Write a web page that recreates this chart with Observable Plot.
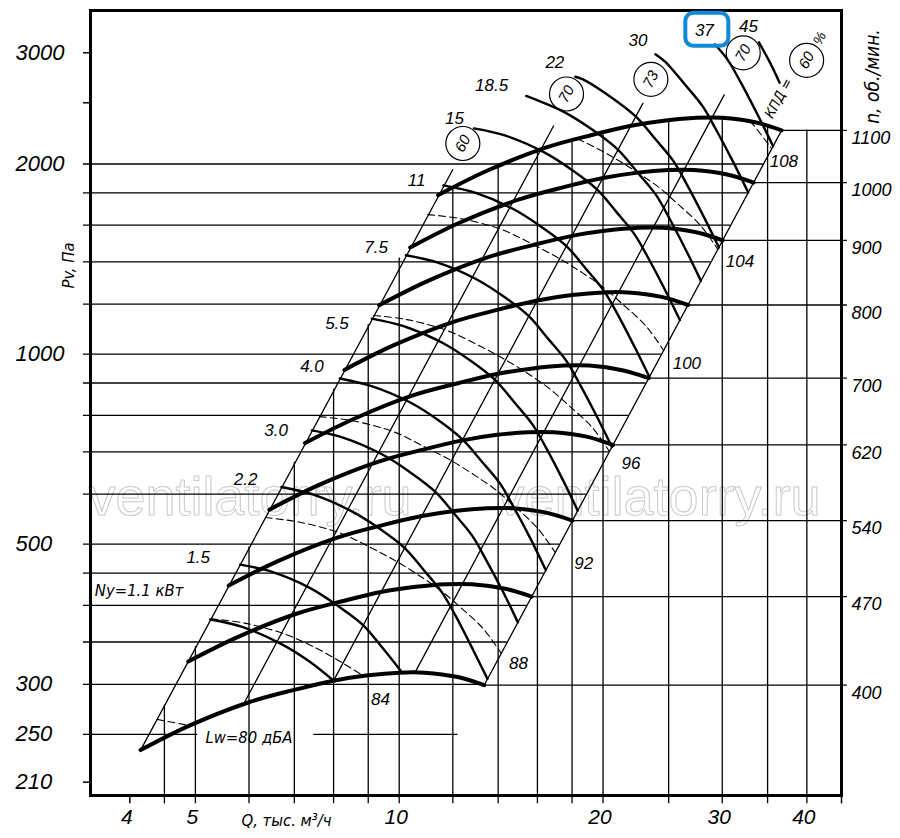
<!DOCTYPE html>
<html><head><meta charset="utf-8">
<script src="https://cdn.jsdelivr.net/npm/d3@7"></script>
<script src="https://cdn.jsdelivr.net/npm/@observablehq/plot@0.6"></script>
<style>body{margin:0;background:#fff}svg{display:block}</style>
</head><body><div id="chart"></div>
<script>
// ---------- fan characteristic curves (Q thousand m3/h, Pv Pa) ----------
const rpmValues = [400, 470, 540, 620, 700, 800, 900, 1000, 1100];
const fan400 = [[4.15,236],[4.9,258],[6.0,281],[7.0,294],[8.0,304],[9.0,310],[10.0,313],[10.9,313],[12.2,308],[13.35,299]];
const fan470 = [[4.88,326],[5.76,356],[7.05,388],[8.23,406],[9.40,420],[10.58,428],[11.75,432],[12.81,432],[14.34,425],[15.69,413]];
const fan540 = [[5.60,430],[6.62,470],[8.10,512],[9.45,536],[10.80,554],[12.15,565],[13.50,570],[14.72,570],[16.47,561],[18.02,545]];
const fan620 = [[6.43,567],[7.60,620],[9.30,675],[10.85,706],[12.40,730],[13.95,745],[15.50,752],[16.90,752],[18.91,740],[20.69,718]];
const fan700 = [[7.26,723],[8.58,790],[10.50,861],[12.25,900],[14.00,931],[15.75,949],[17.50,959],[19.08,959],[21.35,943],[23.36,916]];
const fan800 = [[8.30,944],[9.80,1032],[12.0,1124],[14.0,1176],[16.0,1216],[18.0,1240],[20.0,1252],[21.8,1252],[24.4,1232],[26.7,1196]];
const fan900 = [[9.34,1195],[11.03,1306],[13.5,1423],[15.75,1488],[18.0,1539],[20.25,1569],[22.5,1585],[24.53,1585],[27.45,1559],[30.04,1514]];
const fan1000 = [[10.38,1475],[12.25,1613],[15.0,1756],[17.5,1838],[20.0,1900],[22.5,1938],[25.0,1956],[27.25,1956],[30.5,1925],[33.38,1869]];
const fan1100 = [[11.41,1785],[13.48,1951],[16.5,2125],[19.25,2223],[22.0,2299],[24.75,2344],[27.5,2367],[29.98,2367],[33.55,2329],[36.71,2261]];
const fanCurves = [fan400, fan470, fan540, fan620, fan700, fan800, fan900, fan1000, fan1100];

// ---------- motor power lines Ny, kW ----------
const powerLabels = ["Ny=1.1 кВт","1.5","2.2","3.0","4.0","5.5","7.5","11","15","18.5","22","30","37","45"];
const pw1_1 = [[5.26,380],[5.86,370],[6.68,348],[7.37,326],[8.0,304]];
const pw1_5 = [[5.82,464],[6.49,452],[7.39,426],[8.15,398],[8.85,372],[9.46,342],[10.1,313]];
const pw2_2 = [[6.70,616],[7.47,599],[8.50,564],[9.38,528],[10.19,493],[10.89,454],[11.57,419],[12.10,386],[12.84,341],[13.50,306]];
const pw3_0 = [[7.43,757],[8.28,737],[9.43,694],[10.40,649],[11.29,606],[12.07,558],[12.83,515],[13.41,474],[14.24,420],[14.97,376]];
const pw4_0 = [[8.17,915],[9.10,890],[10.37,839],[11.44,785],[12.41,732],[13.27,674],[14.10,623],[14.75,573],[15.66,508],[16.46,455]];
const pw5_5 = [[9.11,1138],[10.15,1107],[11.56,1043],[12.75,976],[13.84,911],[14.80,838],[15.73,774],[16.45,713],[17.46,631],[18.35,565]];
const pw7_5 = [[10.23,1434],[11.40,1396],[12.98,1315],[14.32,1230],[15.54,1148],[16.61,1056],[17.65,976],[18.46,898],[19.60,795],[20.61,713]];
const pw11 = [[11.62,1850],[12.94,1801],[14.74,1697],[16.26,1587],[17.66,1482],[18.88,1364],[20.06,1259],[20.98,1160],[22.27,1026],[23.42,920]];
const pw15 = [[12.89,2277],[14.36,2217],[16.35,2088],[18.04,1953],[19.59,1823],[20.94,1678],[22.25,1549],[23.27,1426],[24.70,1263],[25.97,1132]];
const pw18_5 = [[15.40,2563],[17.58,2412],[19.39,2257],[21.05,2106],[22.50,1938],[23.92,1790],[25.01,1647],[26.54,1458],[27.90,1306]];
const pw22 = [[18.20,2749],[18.68,2723],[20.60,2547],[22.37,2377],[23.91,2188],[25.41,2021],[26.57,1860],[28.20,1646],[29.66,1475]];
const pw30 = [[23.90,2984],[24.72,2902],[26.42,2672],[28.07,2467],[29.35,2270],[31.17,2010],[32.77,1802]];
const pw37 = [[29.25,3094],[30.56,2923],[31.96,2690],[33.92,2380],[35.67,2134]];
const pw45 = [[33.98,3116],[35.20,2910],[36.46,2690]];
const powerCurves = [pw1_1,pw1_5,pw2_2,pw3_0,pw4_0,pw5_5,pw7_5,pw11,pw15,pw18_5,pw22,pw30,pw37,pw45];

// ---------- sound power lines Lw, dBA ----------
const lwLabels = ["Lw=80 дБА","84","88","92","96","100","104","108"];
const lw80 = [[4.39,264],[4.9,258]];
const lw84 = [[5.27,381],[5.91,375],[6.79,360],[7.55,342],[8.26,324],[8.87,309]];
const lw88 = [[6.34,551],[7.11,542],[8.17,521],[9.07,494],[9.93,469],[10.77,444],[11.59,420],[12.29,398],[13.32,367],[14.14,336]];
const lw92 = [[7.62,796],[8.54,784],[9.82,753],[10.90,713],[11.94,678],[12.95,642],[13.93,608],[14.77,575],[16.01,530],[17.00,485]];
const lw96 = [[9.16,1151],[10.27,1134],[11.81,1088],[13.11,1032],[14.36,979],[15.57,928],[16.75,878],[17.76,831],[19.25,767],[20.44,701]];
const lw100 = [[11.02,1663],[12.35,1638],[14.20,1573],[15.77,1491],[17.26,1416],[18.72,1341],[20.14,1269],[21.35,1201],[23.14,1108],[24.58,1013]];
const lw104 = [[18.32,2190],[18.95,2156],[20.76,2046],[22.50,1938],[24.21,1835],[25.67,1736],[27.82,1601],[29.55,1465]];
const lw108 = [[32.95,2337],[33.37,2305],[35.49,2114]];
const lwCurves = [lw80,lw84,lw88,lw92,lw96,lw100,lw104,lw108];

// ---------- efficiency (КПД) diagonals, % ----------
const effLabels = ["60","70","73","70","60"];
const eff60a = [[4.15,236],[12.0,1960]];
const eff70a = [[5.9,280],[16.9,2297]];
const eff73 = [[8.0,304],[22.9,2495]];
const eff70b = [[10.55,313],[30.2,2573]];
const eff60b = [[13.35,299],[36.71,2261]];
const effLines = [eff60a,eff70a,eff73,eff70b,eff60b];

// ---------- grid and axis values ----------
const gridP = [2000,1800,1600,1400,1200,1000,900,800,700,600,500,450,400,350,300,250];
const gridQEnd = [34.52,32.75,30.88,28.88,26.74,24.41,23.16,21.84,20.43,18.91,17.26,16.38,15.44,14.44,13.37,12.21];
const lw80Gap = [5.04, 7.48];
const tickOnlyP = [3000, 2500, 210];
const yLabels = [3000, 2000, 1000, 500, 300, 250, 210];
const gridQ = [4.5,5,6,7,8,9,10,12,14,16,18,20,25,30,35,40];
const gridQTop = [278,344,495,674,880,1114,1420,1825,1981,2098,2177,2244,2346,2367,2298,2261];
const tickOnlyQ = [4, 45];
const xLabels = [4, 5, 10, 20, 30, 40];

// ---------- label layout offsets (pixels) ----------
const powerDx = [-27,-30,-24,-24,-16,-23,-18,-18,-10,-18,-11,-8,-1,-1];
const powerDy = [-29,-7,-7,0,-12,5,-8,-5,-10,-10,-14,-14,-14,-16];
const lwDx = [16,7,8,19,12,9,8,-2];
const lwDy = [12,23,10,11,12,13,12,13];
const effDx = [10,13,8,19,25];
const effDy = [-26,-32,-24,-42,-70];

// ---------- build tables ----------
const toRows = (curves, names) => curves.flatMap((c, i) => c.map(([Q, P]) => ({Q, P, g: names[i]})));
const fanRows = toRows(fanCurves, rpmValues);
const powRows = toRows(powerCurves, powerLabels);
const lwRows = toRows(lwCurves, lwLabels);
const effRows = toRows(effLines, effLabels.map((e, i) => e + "_" + i));
const fanEnds = fanCurves.map((c, i) => ({Q: c[c.length-1][0], P: c[c.length-1][1], n: rpmValues[i]}));
const hRows = gridP.flatMap((P, i) => P === 250
  ? [{P, q1: 3.417, q2: lw80Gap[0]}, {P, q1: lw80Gap[1], q2: gridQEnd[i]}]
  : [{P, q1: 3.417, q2: gridQEnd[i]}]);
const vRows = gridQ.map((q, i) => ({q, top: gridQTop[i]}));

const FONT = "Liberation Sans, Arial, sans-serif";
const CYR = "DejaVu Sans Condensed, DejaVu Sans, sans-serif";
const txt = {fontFamily: FONT, fontStyle: "italic", fill: "#000"};
const cyr = {fontFamily: CYR, fontStyle: "oblique", fill: "#000", fontStretch: "condensed"};
const isCyr = s => /[А-яЁё]/.test(s);

const roundBox = {draw(ctx) {
  const w = 21.5, h = 16.5, r = 8;
  ctx.moveTo(-w + r, -h); ctx.lineTo(w - r, -h); ctx.arcTo(w, -h, w, -h + r, r);
  ctx.lineTo(w, h - r); ctx.arcTo(w, h, w - r, h, r); ctx.lineTo(-w + r, h);
  ctx.arcTo(-w, h, -w, h - r, r); ctx.lineTo(-w, -h + r); ctx.arcTo(-w, -h, -w + r, -h, r);
  ctx.closePath();
}};

const marks = [
  // watermark
  Plot.text(["ventilatorry.ru"], {frameAnchor: "left", dx: -2, dy: 95, textAnchor: "start", lineAnchor: "middle", fontSize: 54, fontFamily: FONT, fill: "none", stroke: "#c9c9c9", strokeWidth: 1}),
  Plot.text(["ventilatorry.ru"], {frameAnchor: "left", dx: 407, dy: 95, textAnchor: "start", lineAnchor: "middle", fontSize: 54, fontFamily: FONT, fill: "none", stroke: "#c9c9c9", strokeWidth: 1}),
  // grid
  Plot.ruleX(vRows, {x: "q", y1: 194, y2: "top", stroke: "#000", strokeWidth: 1.3}),
  Plot.ruleX(tickOnlyQ, {x: d => d, y1: 194, y2: 200, stroke: "#000", strokeWidth: 1.5}),
  Plot.ruleY(hRows, {y: "P", x1: "q1", x2: "q2", stroke: "#000", strokeWidth: 1.3}),
  Plot.ruleY(tickOnlyP, {y: d => d, x1: 3.417, x2: 3.5, stroke: "#000", strokeWidth: 1.5}),
  Plot.ruleY(fanEnds, {y: "P", x1: "Q", x2: 45.9, stroke: "#000", strokeWidth: 1.3}),
  // efficiency diagonals
  Plot.line(effRows, {x: "Q", y: "P", z: "g", stroke: "#000", strokeWidth: 1.3}),
  // Lw dashed lines
  Plot.line(lwRows, {x: "Q", y: "P", z: "g", stroke: "#000", strokeWidth: 1.1, strokeDasharray: "7,4", curve: "catmull-rom"}),
  // power lines
  Plot.line(powRows, {x: "Q", y: "P", z: "g", stroke: "#000", strokeWidth: 2.4, curve: "catmull-rom"}),
  // fan curves
  Plot.line(fanRows, {x: "Q", y: "P", z: "g", stroke: "#000", strokeWidth: 4, curve: "catmull-rom"}),
  Plot.frame({stroke: "#000", strokeWidth: 3}),
  // axes labels
  Plot.text(yLabels, {...txt, x: 3.5, y: d => d, text: d => String(d), dx: -75, textAnchor: "start", fontSize: 22}),
  Plot.text(xLabels, {...txt, x: d => d, y: 200, text: d => String(d), dx: -3, dy: 22, fontSize: 21}),
  Plot.text(["Q, тыс. м³/ч"], {...cyr, frameAnchor: "bottom-left", dx: 196, dy: 25, textAnchor: "middle", lineAnchor: "middle", fontSize: 16.5}),
  Plot.text(["Pv, Па"], {...cyr, frameAnchor: "top-left", dx: -22, dy: 255, textAnchor: "middle", lineAnchor: "middle", rotate: -90, fontSize: 16.5}),
  Plot.text(["n, об./мин."], {...cyr, frameAnchor: "top-right", dx: 31, dy: 66, textAnchor: "middle", lineAnchor: "middle", rotate: -90, fontSize: 19}),
  // rpm labels
  Plot.text(fanEnds, {...txt, x: 45, y: "P", text: d => String(d.n), dx: 10, dy: 8, textAnchor: "start", fontSize: 18}),
  // highlight box around 37
  Plot.dot([pw37[0]], {x: d => d[0], y: d => d[1], dx: -8, dy: -15, symbol: roundBox, r: 10, fill: "none", stroke: "#0d8bd8", strokeWidth: 4}),
  // power labels
  ...powerCurves.map((c, i) => Plot.text([c[0]], {...(isCyr(powerLabels[i]) ? cyr : txt), x: d => d[0], y: d => d[1], text: () => powerLabels[i], dx: powerDx[i], dy: powerDy[i], textAnchor: "end", fontSize: isCyr(powerLabels[i]) ? 16.5 : 17})),
  // Lw labels
  ...lwCurves.map((c, i) => Plot.text([c[c.length-1]], {...(isCyr(lwLabels[i]) ? cyr : txt), x: d => d[0], y: d => d[1], text: () => lwLabels[i], dx: lwDx[i], dy: lwDy[i], textAnchor: "start", fontSize: isCyr(lwLabels[i]) ? 16.5 : 17})),
  // efficiency circles
  ...effLines.map((c, i) => Plot.dot([c[1]], {x: d => d[0], y: d => d[1], dx: effDx[i], dy: effDy[i], r: 17, fill: "none", stroke: "#000", strokeWidth: 1.2})),
  ...effLines.map((c, i) => Plot.text([c[1]], {...txt, x: d => d[0], y: d => d[1], text: () => effLabels[i], dx: effDx[i], dy: effDy[i], rotate: -62, fontSize: 15})),
  Plot.text([eff60b[1]], {...cyr, x: d => d[0], y: d => d[1], text: () => "КПД =", dx: -3, dy: -32, textAnchor: "middle", lineAnchor: "middle", rotate: -62, fontSize: 14}),
  Plot.text([eff60b[1]], {...txt, x: d => d[0], y: d => d[1], text: () => "%", dx: 38, dy: -92, rotate: -62, fontSize: 14})
];

const chart = Plot.plot({
  width: 900, height: 838,
  marginLeft: 90, marginRight: 59, marginTop: 10, marginBottom: 43,
  x: {type: "log", domain: [3.5, 45], axis: null},
  y: {type: "log", domain: [200, 3500], axis: null},
  style: {background: "#fff", overflow: "visible"},
  marks
});
document.getElementById("chart").appendChild(chart);
</script>
</body></html>
